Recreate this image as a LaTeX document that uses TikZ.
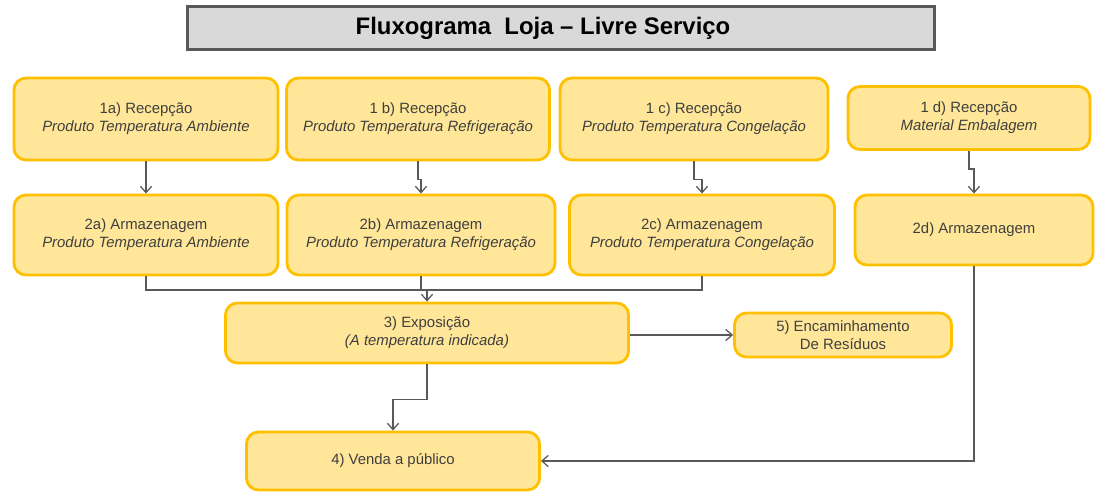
\documentclass[tikz,border=0pt]{standalone}
\usepackage{fontspec}
\setmainfont{Liberation Sans}
\usepackage{tikz}
\usetikzlibrary{positioning,arrows.meta}
\definecolor{ouro}{HTML}{FFC000}
\definecolor{creme}{HTML}{FFE699}
\definecolor{cinzaclaro}{HTML}{D9D9D9}
\definecolor{cinzaescuro}{HTML}{595959}
\definecolor{texto}{HTML}{3F3F3F}
\tikzset{every picture/.style={line width=0.75pt}}
\tikzset{
  etapa/.style={draw=ouro, fill=creme, line width=2pt, rounded corners=0.3cm,
    align=center, text=texto, inner sep=0pt,
    font=\fontsize{10.6}{13}\selectfont},
  titulo/.style={draw=cinzaescuro, fill=cinzaclaro, line width=1.6pt,
    align=center, inner sep=0pt, font=\fontsize{17}{20}\selectfont\bfseries},
  seta/.style={draw=cinzaescuro, line width=0.9pt,
    -{Straight Barb[length=1.6mm,width=2.8mm]}},
  linha/.style={draw=cinzaescuro, line width=0.9pt}
}

\begin{document}
\begin{tikzpicture}[x=0.025cm,y=-0.025cm]
\useasboundingbox (0,0) rectangle (1099,492);
\node[titulo, minimum width=18.675cm, minimum height=1.075cm] (0) at (561,28)
  {\hspace*{-0.9cm}Fluxograma\ \ Loja -- Livre Serviço};
%
\node[etapa, minimum width=6.6cm, minimum height=2.05cm] (1a) at (146,119)
  {1a) Recepção\\ \textit{Produto Temperatura Ambiente}};
\node[etapa, minimum width=6.575cm, minimum height=2.05cm] (1b) at (418,119)
  {1 b) Recepção\\ \textit{Produto Temperatura Refrigeração}};
\node[etapa, minimum width=6.7cm, minimum height=2.05cm] (1c) at (694,119)
  {1 c) Recepção\\ \textit{Produto Temperatura Congelação}};
\node[etapa, minimum width=6.05cm, minimum height=1.575cm] (1d) at (969,118)
  {1 d) Recepção\\ \textit{Material Embalagem}};
%
\node[etapa, minimum width=6.6cm, minimum height=2.0cm] (2a) at (146,235)
  {2a) Armazenagem\\ \textit{Produto Temperatura Ambiente}};
\node[etapa, minimum width=6.7cm, minimum height=2.0cm] (2b) at (421,235)
  {2b) Armazenagem\\ \textit{Produto Temperatura Refrigeração}};
\node[etapa, minimum width=6.625cm, minimum height=2.0cm] (2c) at (702,235)
  {2c) Armazenagem\\ \textit{Produto Temperatura Congelação}};
\node[etapa, minimum width=5.95cm, minimum height=1.75cm] (2d) at (974,230)
  {2d) Armazenagem};
%
\node[etapa, minimum width=10.075cm, minimum height=1.5cm] (3) at (427,333)
  {3) Exposição\\ \textit{(A temperatura indicada)}};
\node[etapa, minimum width=5.425cm, minimum height=1.1cm] (5) at (843,335)
  {5) Encaminhamento\\ De Resíduos};
\node[etapa, minimum width=7.325cm, minimum height=1.45cm] (4) at (393,461)
  {4) Venda a público};
%
\foreach \Source/\Target in {%
	1a.south/2a.north,
	1b.south/2b.north,
	1c.south/2c.north,
	1d.south/2d.north%
    }
\draw[seta] (\Source) -- ++(0,18) -| (\Target);
%
\coordinate (j) at (427,290);
\draw[linha] (2a.south) |- (j) -| (2c.south);
\draw[linha] (2b.south) -- (2b.south |- j);
\draw[seta] (j) -- (3.north);
%
\draw[seta] (5.west -| 3.east) -- (5.west);
\draw[seta] (3.south) -- ++(0,35) -| (4.north);
\draw[seta] (2d.south) |- (4.east);
\end{tikzpicture}
\end{document}
